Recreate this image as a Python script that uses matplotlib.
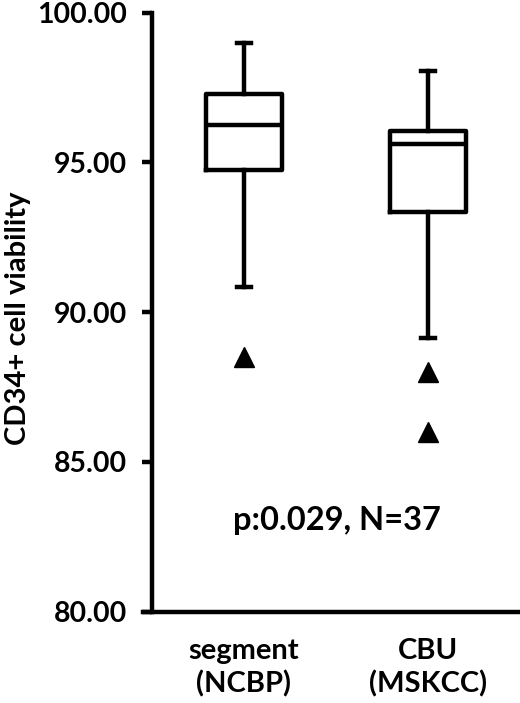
import matplotlib
matplotlib.use("Agg")
import matplotlib.pyplot as plt

categories = ["segment\n(NCBP)", "CBU\n(MSKCC)"]
whislo = [90.85, 89.15]
q1 = [94.75, 93.33]
med = [96.25, 95.6]
q3 = [97.3, 96.05]
whishi = [99.0, 98.05]
fliers = [[88.5], [88.0, 86.0]]
y_ticks = [80, 85, 90, 95, 100]
annotation = "p:0.029, N=37"

plt.rcParams['font.family'] = ['Lato', 'DejaVu Sans']
plt.rcParams['font.weight'] = 'bold'

fig = plt.figure(figsize=(5.2, 7.03), dpi=100)
ax = fig.add_axes([0.2923, 0.1299, 0.7077, 0.8520])

stats = []
for i in range(len(categories)):
    stats.append(dict(whislo=whislo[i], q1=q1[i], med=med[i], q3=q3[i],
                      whishi=whishi[i], fliers=fliers[i], label=categories[i]))

lw = 3.2
positions = [0.5, 1.5]
ax.bxp(stats, positions=positions, widths=0.41, capwidths=0.076,
       boxprops=dict(color='black', linewidth=lw),
       medianprops=dict(color='black', linewidth=lw),
       whiskerprops=dict(color='black', linewidth=lw),
       capprops=dict(color='black', linewidth=lw),
       flierprops=dict(marker='^', markerfacecolor='black', markeredgecolor='black',
                       markersize=14, linestyle='none'))

ax.set_xlim(0, 2)
ax.set_ylim(80, 100)
ax.set_yticks(y_ticks)
ax.set_yticklabels([f"{v:.2f}" for v in y_ticks], fontsize=20.5, fontweight='bold')
ax.set_xticks(positions)
ax.set_xticklabels(categories, fontsize=21, fontweight='bold', linespacing=1.3)
ax.tick_params(axis='x', length=0, pad=19)
ax.tick_params(axis='y', length=7, width=lw, pad=11)

for s in ['top', 'right']:
    ax.spines[s].set_visible(False)
for s in ['left', 'bottom']:
    ax.spines[s].set_linewidth(lw)
ax.spines['bottom'].set_bounds(-0.05, 2)
ax.spines['bottom'].set_clip_on(False)

ax.set_ylabel("CD34+ cell viability", fontsize=21, fontweight='bold')
ax.yaxis.set_label_coords(-0.33, 0.49)
ax.text(1.005, 82.73, annotation, ha='center', va='baseline', fontsize=23.5, fontweight='bold')

fig.savefig("out.png", dpi=100)
